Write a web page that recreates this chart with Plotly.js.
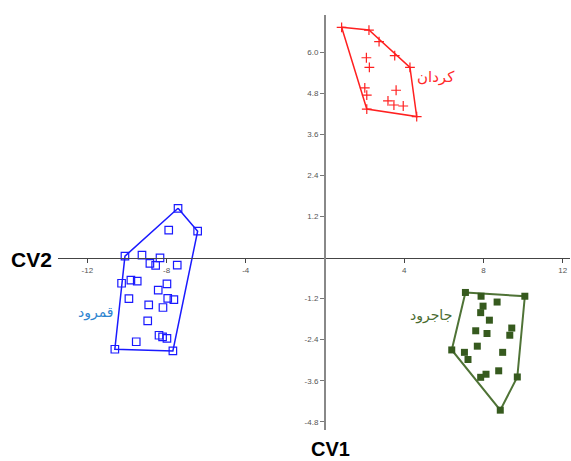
<!DOCTYPE html>
<html>
<head>
<meta charset="utf-8">
<script src="https://cdn.plot.ly/plotly-3.0.1.min.js"></script>
<style>html,body{margin:0;padding:0;background:#fff;}#chart{width:571px;height:461px;}</style>
</head>
<body>
<div id="chart"></div>
<script>
// Group: كردان (red +)
var kordanX = [0.84, 2.22, 2.73, 3.52, 4.29, 4.63, 2.11, 2.09, 2.24, 2.01, 2.11, 3.59, 3.18, 3.48, 3.95];
var kordanY = [6.73, 6.65, 6.31, 5.90, 5.56, 4.12, 4.34, 5.84, 5.56, 4.96, 4.75, 4.89, 4.58, 4.46, 4.43];
var kordanHull = [0, 1, 4, 5, 6, 0];

// Group: قمرود (blue open squares)
var ghamroodX = [-7.42, -6.43, -7.68, -10.61, -10.10, -7.89, -9.24, -8.33, -8.84, -8.55, -7.46, -10.27, -9.80, -9.48, -7.98, -8.42, -9.90, -7.94, -7.63, -8.90, -8.18, -8.95, -8.38, -8.20, -7.98, -9.53];
var ghamroodY = [1.44, 0.77, -2.73, -2.68, 0.04, 0.80, 0.07, -0.01, -0.17, -0.23, -0.22, -0.75, -0.66, -0.69, -0.77, -0.95, -1.20, -1.19, -1.23, -1.38, -1.46, -1.85, -2.27, -2.32, -2.36, -2.46];
var ghamroodHull = [0, 1, 2, 3, 4, 0];

// Group: جاجرود (green filled squares)
var jajroodX = [7.09, 10.09, 9.71, 8.85, 6.40, 7.88, 7.98, 8.69, 7.86, 8.30, 7.61, 8.18, 9.43, 9.33, 7.69, 7.04, 8.97, 7.22, 8.77, 8.13, 7.86];
var jajroodY = [-1.02, -1.13, -3.49, -4.46, -2.70, -1.13, -1.42, -1.30, -1.61, -1.83, -2.14, -2.22, -2.06, -2.27, -2.59, -2.77, -2.77, -2.98, -3.31, -3.41, -3.50];
var jajroodHull = [0, 1, 2, 3, 4, 0];

var xTicks = [-12, -8, -4, 4, 8, 12];
var yTicks = [-4.8, -3.6, -2.4, -1.2, 1.2, 2.4, 3.6, 4.8, 6.0];
var yTickText = ['-4.8', '-3.6', '-2.4', '-1.2', '1.2', '2.4', '3.6', '4.8', '6.0'];

function pick(arr, idx) { return idx.map(function (i) { return arr[i]; }); }

var traces = [
  {x: pick(kordanX, kordanHull), y: pick(kordanY, kordanHull), mode: 'lines', line: {color: '#ff2020', width: 1.5}, hoverinfo: 'skip'},
  {x: pick(ghamroodX, ghamroodHull), y: pick(ghamroodY, ghamroodHull), mode: 'lines', line: {color: '#1a1aff', width: 1.5}, hoverinfo: 'skip'},
  {x: pick(jajroodX, jajroodHull), y: pick(jajroodY, jajroodHull), mode: 'lines', line: {color: '#4f7336', width: 2}, hoverinfo: 'skip'},
  {x: kordanX, y: kordanY, mode: 'markers', marker: {symbol: 'cross-thin-open', size: 7, color: '#ff2020', line: {color: '#ff2020', width: 1.2}}},
  {x: ghamroodX, y: ghamroodY, mode: 'markers', marker: {symbol: 'square-open', size: 7.5, color: '#1a1aff', line: {color: '#1a1aff', width: 1.2}}},
  {x: jajroodX, y: jajroodY, mode: 'markers', marker: {symbol: 'square', size: 7, color: '#365a1e'}}
];

var xr = [-13.48, 12.37], yr = [-5.04, 7.09];
var layout = {
  width: 571, height: 461,
  margin: {l: 58, r: 1, t: 15, b: 31},
  paper_bgcolor: '#fff', plot_bgcolor: '#fff',
  showlegend: false,
  font: {family: 'Liberation Sans, Arial, sans-serif'},
  xaxis: {
    range: xr, anchor: 'free', position: (0 - yr[0]) / (yr[1] - yr[0]),
    showgrid: false, zeroline: false, showline: true, linecolor: '#444', linewidth: 1.5,
    tickmode: 'array', tickvals: xTicks, ticktext: xTicks.map(String),
    ticks: 'outside', ticklen: 4, tickcolor: '#444', tickfont: {size: 8, color: '#555'}
  },
  yaxis: {
    range: yr, anchor: 'free', position: (0 - xr[0]) / (xr[1] - xr[0]),
    showgrid: false, zeroline: false, showline: true, linecolor: '#888', linewidth: 2,
    tickmode: 'array', tickvals: yTicks, ticktext: yTickText,
    ticks: 'outside', ticklen: 4, tickcolor: '#777', tickfont: {size: 8, color: '#555'}
  },
  annotations: [
    {text: '<b>CV2</b>', xref: 'paper', yref: 'paper', x: -0.051, y: 0.41, showarrow: false, font: {size: 21, color: '#000', family: 'Liberation Sans, Arial'}, xanchor: 'center', yanchor: 'middle'},
    {text: '<b>CV1</b>', xref: 'paper', yref: 'paper', x: 0.533, y: -0.046, showarrow: false, font: {size: 20, color: '#000', family: 'Liberation Sans, Arial'}, xanchor: 'center', yanchor: 'middle', borderpad: 0},
    {text: 'كردان', xref: 'x', yref: 'y', x: 5.6, y: 5.28, showarrow: false, font: {size: 15, color: '#ff2a2a', family: 'DejaVu Sans'}},
    {text: 'قمرود', xref: 'x', yref: 'y', x: -11.57, y: -1.62, showarrow: false, font: {size: 14, color: '#2f85d0', family: 'DejaVu Sans'}},
    {text: 'جاجرود', xref: 'x', yref: 'y', x: 5.35, y: -1.68, showarrow: false, font: {size: 14, color: '#4a6b30', family: 'DejaVu Sans'}}
  ]
};

Plotly.newPlot('chart', traces, layout, {displayModeBar: false, staticPlot: true});
</script>
</body>
</html>
